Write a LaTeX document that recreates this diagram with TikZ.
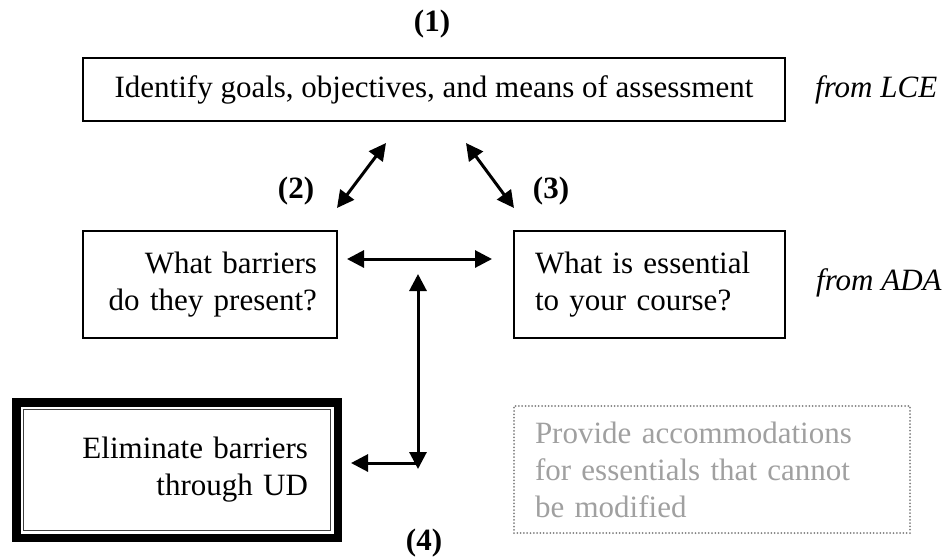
\documentclass[tikz,border=0pt]{standalone}
\usepackage{fontspec}
\setmainfont{Liberation Serif}
\usetikzlibrary{arrows.meta,calc}
\definecolor{dotline}{HTML}{808080}
\definecolor{softtext}{HTML}{A0A0A0}

\begin{document}
\begin{tikzpicture}[x=1pt, y=-1pt, font=\fontsize{31}{37}\selectfont,
  >={Triangle[length=17pt,width=17pt]},
  box/.style={draw, line width=2pt, inner ysep=0pt},
  lbl/.style={font=\fontsize{31}{37}\selectfont\bfseries, inner sep=0pt},
  src/.style={font=\fontsize{31}{37}\selectfont\itshape, anchor=base west, inner sep=0pt},
  link/.style={<->, line width=3pt}]
  \useasboundingbox (0,0) rectangle (952,558);
  % steps
  \node[box, minimum width=702pt, minimum height=63pt, inner xsep=0pt] (goals) at (434,89.5) {Identify goals, objectives, and means of assessment};
  \node[box, minimum width=254pt, minimum height=107pt, text width=214pt, inner xsep=0pt, align=right] (barriers) at (210,284.5) {What barriers\\do they present?};
  \node[box, minimum width=271pt, minimum height=107pt, text width=229pt, inner xsep=0pt, align=left] (essential) at (649.5,284.5) {What is essential\\to your course?};
  \node[draw, line width=8.5pt, minimum width=321.5pt, minimum height=135.5pt, text width=262pt, inner sep=0pt, align=right] (elim) at (177,470) {Eliminate barriers\\through UD};
  \draw[line width=1.5pt, black!75] ($(elim.north west)+(11.5,11.5)$) rectangle ($(elim.south east)-(11.5,11.5)$);
  \node[draw=dotline, line width=2pt, dash pattern=on 0pt off 3.3pt, line cap=round, minimum width=396pt, minimum height=127pt, text width=354pt, inner sep=0pt, align=left, text=softtext] (provide) at (712,469.5) {Provide accommodations\\for essentials that cannot\\be modified};
  % labels
  \node[lbl] (n1) at (432,24) {(1)};
  \node[lbl] (n2) at (296,191) {(2)};
  \node[lbl] (n3) at (551,191) {(3)};
  \node[lbl] (n4) at (424,543) {(4)};
  \node[src] (lce) at (815,97) {from LCE};
  \node[src] (ada) at (816,290) {from ADA};
  % arrow ends
  \coordinate (gl) at (386,143);
  \coordinate (bl) at (337,208);
  \coordinate (gr) at (466,143);
  \coordinate (er) at (514,208);
  \coordinate (hl) at (347,259);
  \coordinate (hr) at (492,259);
  \coordinate (vt) at (418,274);
  \coordinate (vb) at (418,469);
  \coordinate (vj) at (418,463);
  \coordinate (el) at (351,463);
  \draw[link] (gl) -- (bl);
  \draw[link] (gr) -- (er);
  \draw[link] (hl) -- (hr);
  \draw[link] (vt) -- (vb);
  \draw[->, line width=3pt] (vj) -- (el);
\end{tikzpicture}
\end{document}
